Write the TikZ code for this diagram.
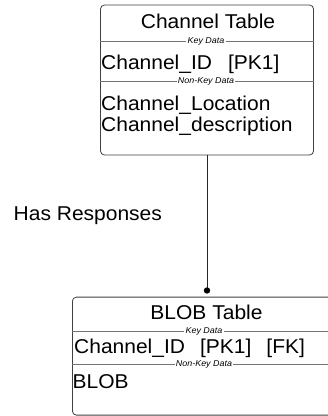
\documentclass[tikz,border=0pt]{standalone}
\usepackage{fontspec}
\setmainfont{Liberation Sans}[FakeStretch=1.05]
\begin{document}
\begin{tikzpicture}[x=1pt,y=-1pt,
  entity/.style={draw=black!75, line width=0.8pt, rounded corners=4pt, fill=white, inner sep=0pt},
  sepline/.style={draw=black!55, line width=0.6pt},
  seplabel/.style={fill=white, inner xsep=1.2pt, inner ysep=0pt, font=\fontsize{8.5}{9}\selectfont\itshape},
  row/.style={anchor=base west, inner sep=0pt, font=\fontsize{20}{22}\selectfont},
  title/.style={anchor=base, inner sep=0pt, font=\fontsize{20}{22}\selectfont},
  conn/.style={draw=black!85, line width=0.7pt}]
\useasboundingbox (0,0) rectangle (328,416);
\clip (0,0) rectangle (328,416);
% Channel Table
\node[entity, minimum width=213pt, minimum height=150pt] (chan) at (207,80) {};
\node[title] (chant) at (208,28.3) {Channel Table};
\draw[sepline] (chan.west |- 0,41.5) coordinate (k1a) -- (chan.east |- 0,41.5) coordinate (k1b);
\node[seplabel] (k1) at (206,41.5) {Key Data};
\node[row] (cid) at (101,69.3) {Channel\_ID\hspace{16pt}[PK1]};
\draw[sepline] (chan.west |- 0,81.7) coordinate (n1a) -- (chan.east |- 0,81.7) coordinate (n1b);
\node[seplabel] (n1) at (206,81.7) {Non-Key Data};
\node[row] (cloc) at (101,110.7) {Channel\_Location};
\node[row] (cdesc) at (101,131.5) {Channel\_description};
% BLOB Table
\node[entity, minimum width=268pt, minimum height=118pt, anchor=north west] (blob) at (72,296.7) {};
\node[title] (blobt) at (206.5,319) {BLOB Table};
\draw[sepline] (blob.west |- 0,331) coordinate (k2a) -- (blob.east |- 0,331) coordinate (k2b);
\node[seplabel] (k2) at (204,331) {Key Data};
\node[row] (bid) at (74,353.5) {Channel\_ID\hspace{15pt}[PK1]\hspace{15pt}[FK]};
\draw[sepline] (blob.west |- 0,364) coordinate (n2a) -- (blob.east |- 0,364) coordinate (n2b);
\node[seplabel] (n2) at (204,364) {Non-Key Data};
\node[row] (bblob) at (72.5,388) {BLOB};
% relationship
\coordinate (dotc) at (207,290.5);
\draw[conn] (chan.south) -- (dotc);
\fill[black] (dotc) circle (3.2pt);
\node[row] (rel) at (13.5,220.5) {Has Responses};
\end{tikzpicture}
\end{document}
